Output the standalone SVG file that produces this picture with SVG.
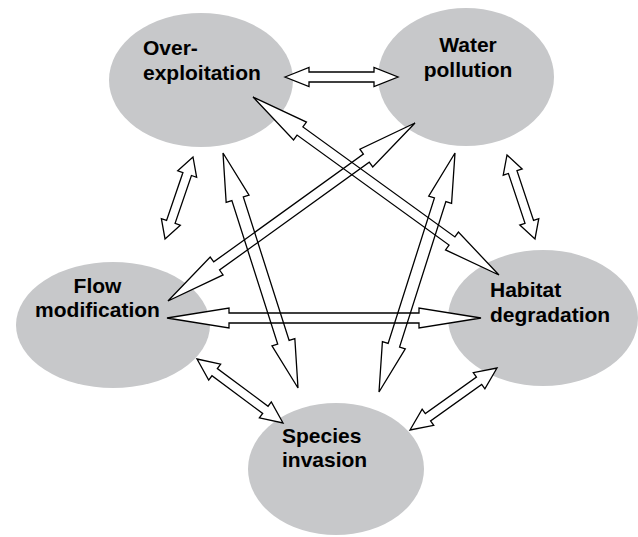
<svg xmlns="http://www.w3.org/2000/svg" xmlns:xlink="http://www.w3.org/1999/xlink" width="638" height="537" viewBox="0 0 638 537">
<style>
.node ellipse{fill:#c7c8ca;stroke:none}
.lbl{font-family:"Liberation Sans",Arial,sans-serif;font-weight:bold;font-size:21px;fill:#000}
.fillpass use{fill:#fff;stroke:none}
.strokepass use{fill:none;stroke:#000;stroke-width:1.3;stroke-linejoin:miter}
</style>
<defs>
<path id="a1" transform="translate(285,77) rotate(0)" d="M0,0 L24,-9.5 L24,-5 L89,-5 L89,-9.5 L113,0 L89,9.5 L89,5 L24,5 L24,9.5 Z"/>
<path id="a2" transform="translate(253,97) rotate(35.89)" d="M0,0 L58,-11 L58,-5 L245.6,-5 L245.6,-11 L303.6,0 L245.6,11 L245.6,5 L58,5 L58,11 Z"/>
<path id="a3" transform="translate(415,123) rotate(144.22)" d="M0,0 L60,-11 L60,-5 L244.5,-5 L244.5,-11 L304.5,0 L244.5,11 L244.5,5 L60,5 L60,11 Z"/>
<path id="a4" transform="translate(167,318) rotate(0)" d="M0,0 L62,-10 L62,-5 L252,-5 L252,-10 L314,0 L252,10 L252,5 L62,5 L62,10 Z"/>
<path id="a5" transform="translate(223,153) rotate(72.3)" d="M0,0 L48,-12 L48,-6 L198.7,-6 L198.7,-12 L246.7,0 L198.7,12 L198.7,6 L48,6 L48,12 Z"/>
<path id="a6" transform="translate(455,153) rotate(107.64)" d="M0,0 L49,-12 L49,-6 L201.8,-6 L201.8,-12 L250.8,0 L201.8,12 L201.8,6 L49,6 L49,12 Z"/>
<path id="a7" transform="translate(193,157) rotate(108.85)" d="M0,0 L18,-10 L18,-4.5 L68.6,-4.5 L68.6,-10 L86.6,0 L68.6,10 L68.6,4.5 L18,4.5 L18,10 Z"/>
<path id="a8" transform="translate(507,155) rotate(71.57)" d="M0,0 L18,-10 L18,-4.5 L70.5,-4.5 L70.5,-10 L88.5,0 L70.5,10 L70.5,4.5 L18,4.5 L18,10 Z"/>
<path id="a9" transform="translate(197,359) rotate(36.65)" d="M0,0 L22,-10 L22,-4.5 L85.2,-4.5 L85.2,-10 L107.2,0 L85.2,10 L85.2,4.5 L22,4.5 L22,10 Z"/>
<path id="a10" transform="translate(497,368) rotate(144.52)" d="M0,0 L22,-10 L22,-4.5 L84.8,-4.5 L84.8,-10 L106.8,0 L84.8,10 L84.8,4.5 L22,4.5 L22,10 Z"/>
</defs>
<rect width="638" height="537" fill="#fff"/>
<g id="over-exploitation" class="node">
<ellipse cx="201" cy="80" rx="92" ry="67"/>
<text class="lbl" x="143" y="55">Over-</text>
<text class="lbl" x="143" y="80">exploitation</text>
</g>
<g id="water-pollution" class="node">
<ellipse cx="466" cy="77" rx="88" ry="69"/>
<text class="lbl" x="468" y="52" text-anchor="middle">Water</text>
<text class="lbl" x="468" y="77" text-anchor="middle">pollution</text>
</g>
<g id="flow-modification" class="node">
<ellipse cx="113" cy="325" rx="97" ry="63"/>
<text class="lbl" x="97.5" y="293" text-anchor="middle">Flow</text>
<text class="lbl" x="97.5" y="317" text-anchor="middle">modification</text>
</g>
<g id="habitat-degradation" class="node">
<ellipse cx="543" cy="318" rx="95" ry="68"/>
<text class="lbl" x="490" y="297">Habitat</text>
<text class="lbl" x="490" y="322">degradation</text>
</g>
<g id="species-invasion" class="node">
<ellipse cx="336" cy="469" rx="88" ry="66"/>
<text class="lbl" x="282" y="443">Species</text>
<text class="lbl" x="282" y="467">invasion</text>
</g>
<g id="connectors">
<g class="fillpass">
<use xlink:href="#a1"/><use xlink:href="#a2"/><use xlink:href="#a3"/><use xlink:href="#a4"/><use xlink:href="#a5"/><use xlink:href="#a6"/><use xlink:href="#a7"/><use xlink:href="#a8"/><use xlink:href="#a9"/><use xlink:href="#a10"/>
</g>
<g class="strokepass">
<use xlink:href="#a1"/><use xlink:href="#a2"/><use xlink:href="#a3"/><use xlink:href="#a4"/><use xlink:href="#a5"/><use xlink:href="#a6"/><use xlink:href="#a7"/><use xlink:href="#a8"/><use xlink:href="#a9"/><use xlink:href="#a10"/>
</g>
</g>
</svg>
